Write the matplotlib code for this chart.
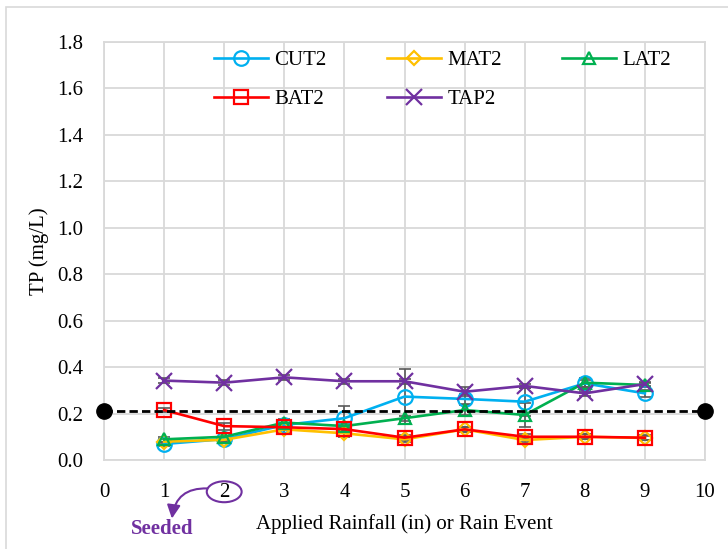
import matplotlib
matplotlib.use("Agg")
import matplotlib.pyplot as plt
from matplotlib.patches import Ellipse, Rectangle

plt.rcParams['font.family'] = ['Liberation Serif', 'DejaVu Serif']

# --- data ---
events = [1, 2, 3, 4, 5, 6, 7, 8, 9]

cut2 = [0.069, 0.090, 0.151, 0.180, 0.273, 0.263, 0.251, 0.330, 0.287]
mat2 = [0.079, 0.087, 0.132, 0.115, 0.089, 0.132, 0.086, 0.100, 0.095]
lat2 = [0.089, 0.100, 0.161, 0.146, 0.180, 0.215, 0.194, 0.333, 0.323]
bat2 = [0.215, 0.146, 0.141, 0.133, 0.096, 0.132, 0.100, 0.100, 0.096]
tap2 = [0.342, 0.333, 0.356, 0.339, 0.339, 0.294, 0.319, 0.287, 0.327]

cut2_err = [0.010, 0.010, 0.010, 0.054, 0.120, 0.020, 0.060, 0.015, 0.015]
mat2_err = [0.010, 0.010, 0.015, 0.015, 0.010, 0.010, 0.010, 0.010, 0.010]
lat2_err = [0.010, 0.015, 0.015, 0.010, 0.010, 0.020, 0.050, 0.020, 0.010]
bat2_err = [0.010, 0.015, 0.010, 0.010, 0.010, 0.010, 0.010, 0.010, 0.010]
tap2_err = [0.010, 0.010, 0.010, 0.010, 0.010, 0.020, 0.010, 0.010, 0.010]

threshold_x = [0, 10]
threshold_y = [0.21, 0.21]

x_ticks = list(range(0, 11))
y_ticks = [0.0, 0.2, 0.4, 0.6, 0.8, 1.0, 1.2, 1.4, 1.6, 1.8]

series = [
    ("CUT2", cut2, cut2_err, "#00B0F0", "o"),
    ("MAT2", mat2, mat2_err, "#FFC000", "D"),
    ("LAT2", lat2, lat2_err, "#00B050", "^"),
    ("BAT2", bat2, bat2_err, "#FF0000", "s"),
    ("TAP2", tap2, tap2_err, "#7030A0", "x"),
]
marker_sizes = {"o": 10.5, "D": 7, "^": 9, "s": 10, "x": 12}
fs = 15

fig = plt.figure(figsize=(7.28, 5.49), dpi=100)
ax = fig.add_axes([104 / 728, 1 - 460 / 549, 601 / 728, 418 / 549])

# light frame around the whole chart (only top/left visible in reference)
fig.patches.append(Rectangle((6 / 728, -0.1), 1.2, 1.1 - 7 / 549,
                             transform=fig.transFigure, fill=False,
                             edgecolor="#D9D9D9", lw=1.2))

for name, vals, err, col, mk in series:
    ax.errorbar(events, vals, yerr=err, fmt="none", ecolor="#595959",
                elinewidth=1.2, capsize=4, capthick=1.2, zorder=2)

handles = {}
for name, vals, err, col, mk in series:
    ln, = ax.plot(events, vals, color=col, lw=1.9, marker=mk,
                  ms=marker_sizes[mk], markerfacecolor="none",
                  markeredgecolor=col, mew=1.6, label=name, zorder=3)
    handles[name] = ln

ax.plot(threshold_x, threshold_y, color="black", lw=2, ls=(0, (3, 1.5)),
        marker="o", ms=11, clip_on=False, zorder=4)

ax.set_xlim(0, 10)
ax.set_ylim(0, 1.8)
ax.set_xticks(x_ticks)
ax.set_yticks(y_ticks)
ax.set_yticklabels([f"{v:.1f}" for v in y_ticks])
ax.tick_params(axis="both", length=0, labelsize=fs, colors="black")
ax.tick_params(axis="x", pad=16.5)
ax.tick_params(axis="y", pad=15)
ax.grid(True, color="#D9D9D9", lw=1.3)
ax.set_axisbelow(True)
for sp in ax.spines.values():
    sp.set_color("#D9D9D9")
    sp.set_linewidth(1.3)

ax.set_ylabel("TP (mg/L)", fontsize=fs, labelpad=6)
ax.set_xlabel("Applied Rainfall (in) or Rain Event", fontsize=fs,
              labelpad=9)

# row-wise legend order (matplotlib fills columns first)
order = ["CUT2", "BAT2", "MAT2", "TAP2", "LAT2"]
ax.legend([handles[n] for n in order], order, ncol=3, loc="upper right",
          bbox_to_anchor=(0.975, 1.025), frameon=False, fontsize=fs,
          handlelength=2.6, columnspacing=2.9, handletextpad=0.3,
          labelspacing=0.95)

# "Seeded" callout around tick label 2
purple = "#7030A0"
xt = ax.get_xaxis_transform()
ax.add_patch(Ellipse((2, -0.076), 0.58, 0.05, transform=xt, fill=False,
                     edgecolor=purple, lw=1.5, clip_on=False))
ax.annotate("", xy=(1.13, -0.14), xycoords=xt,
            xytext=(1.72, -0.068), textcoords=xt,
            arrowprops=dict(arrowstyle="-|>", color=purple, lw=1.5,
                            mutation_scale=20, shrinkA=0, shrinkB=0,
                            connectionstyle="arc3,rad=0.45"),
            annotation_clip=False)
ax.text(0.96, -0.165, "Seeded", transform=xt, ha="center", va="center",
        fontsize=fs, fontweight="bold", color=purple)

fig.savefig("out.png", dpi=100)
